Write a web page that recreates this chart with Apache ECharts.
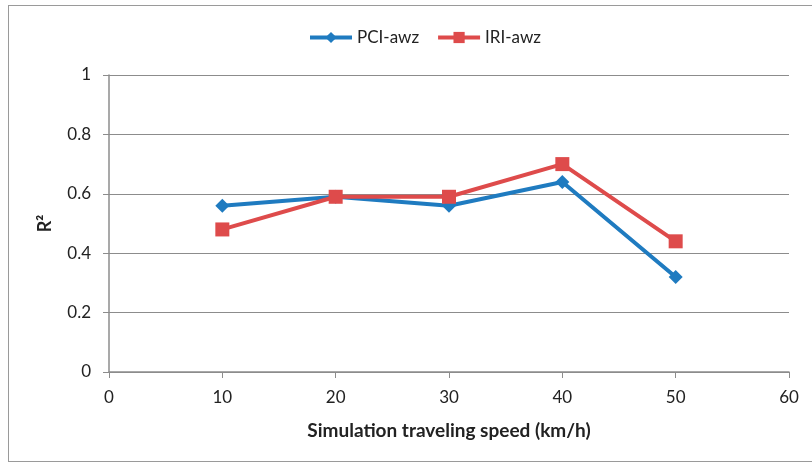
<!DOCTYPE html>
<html><head><meta charset="utf-8">
<script src="https://cdn.jsdelivr.net/npm/echarts@6/dist/echarts.min.js"></script>
<style>
html,body{margin:0;padding:0;background:#fff}
#wrap{position:relative;width:812px;height:464px;overflow:hidden}
#frame{position:absolute;left:8px;top:5px;width:820px;height:457px;border:1.5px solid #9a9a9a;box-sizing:border-box}
#c{position:absolute;left:0;top:0;width:812px;height:464px}
</style>
</head><body><div id="wrap"><div id="frame"></div><div id="c"></div></div>
<script>
const speeds = [10, 20, 30, 40, 50];
const pciAwz = [0.56, 0.59, 0.56, 0.64, 0.32];
const iriAwz = [0.48, 0.59, 0.59, 0.70, 0.44];
const seriesNames = ['PCI-awz', 'IRI-awz'];
const F = 'Lato, "Open Sans", sans-serif';
const chart = echarts.init(document.getElementById('c'));
const toPairs = v => speeds.map((s, i) => [s, v[i]]);
chart.setOption({
  animation: false,
  textStyle: {fontFamily: F},
  legend: {top: 24, left: 303, itemWidth: 42, itemHeight: 14, itemGap: 17,
    lineStyle: {width: 4},
    textStyle: {fontFamily: F, fontSize: 17, color: '#222'},
    data: seriesNames},
  grid: {left: 109, right: 23, top: 75, bottom: 92},
  xAxis: {type: 'value', min: 0, max: 60, interval: 10,
    name: 'Simulation traveling speed (km/h)', nameLocation: 'middle', nameGap: 49,
    nameTextStyle: {fontFamily: F, fontSize: 19, fontWeight: 'bold', color: '#222'},
    axisLine: {lineStyle: {color: '#8c8c8c', width: 1.5}},
    axisTick: {show: true, length: 6, lineStyle: {color: '#8c8c8c'}},
    axisLabel: {fontSize: 17, color: '#222', margin: 17},
    splitLine: {show: false}},
  yAxis: {type: 'value', min: 0, max: 1, interval: 0.2,
    name: 'R²', nameLocation: 'middle', nameGap: 55, nameMoveOverlap: false,
    nameTextStyle: {fontFamily: F, fontSize: 18, fontWeight: 'bold', color: '#222'},
    axisLine: {show: true, lineStyle: {color: '#8c8c8c', width: 1.5}},
    axisTick: {show: true, length: 6, lineStyle: {color: '#8c8c8c'}},
    axisLabel: {fontSize: 17, color: '#222', margin: 18},
    splitLine: {lineStyle: {color: '#8c8c8c', width: 1}}},
  series: [
    {name: seriesNames[0], type: 'line', data: toPairs(pciAwz), symbol: 'diamond', symbolSize: 14,
      lineStyle: {color: '#1f7bc0', width: 4}, itemStyle: {color: '#1f7bc0'}, z: 3},
    {name: seriesNames[1], type: 'line', data: toPairs(iriAwz), symbol: 'rect', symbolSize: 14,
      lineStyle: {color: '#de4b4b', width: 4}, itemStyle: {color: '#de4b4b'}, z: 4}
  ]
});
</script></body></html>
